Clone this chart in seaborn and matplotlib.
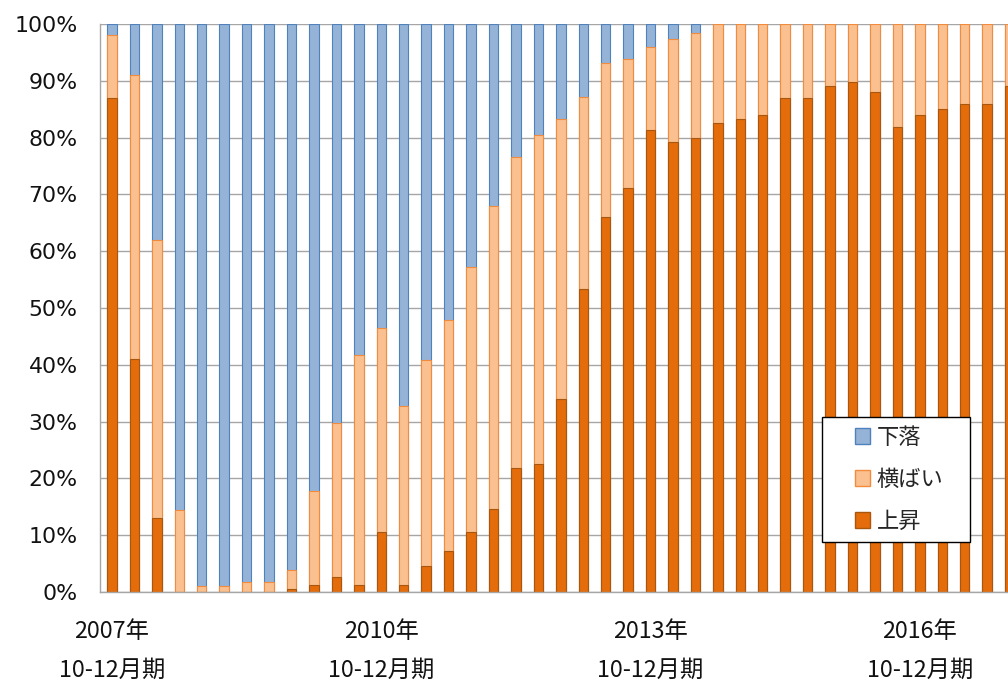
import numpy as np
import pandas as pd
import seaborn as sns
import matplotlib.pyplot as plt
from matplotlib.patches import Patch, Rectangle
from matplotlib.legend_handler import HandlerPatch
from matplotlib.ticker import PercentFormatter, FixedLocator

# quarterly periods, 2007Q4 onwards
periods = pd.period_range('2007Q4', periods=41, freq='Q').astype(str).tolist()

# shares in % (上昇 = rise, 横ばい = flat, 下落 = fall)
rise = [87.0, 41.0, 13.0, 0.0, 0.0, 0.0, 0.0, 0.0, 0.5, 1.2,
        2.6, 1.2, 10.5, 1.2, 4.6, 7.2, 10.5, 14.6, 21.9, 22.6,
        33.9, 53.3, 66.0, 71.2, 81.3, 79.3, 79.9, 82.6, 83.3, 84.0,
        87.0, 87.0, 89.0, 89.8, 88.0, 81.9, 83.9, 85.0, 86.0, 86.0,
        89.0]
flat = [11.0, 50.0, 49.0, 14.5, 1.1, 1.1, 1.8, 1.8, 3.3, 16.6,
        27.2, 40.6, 36.0, 31.5, 36.3, 40.6, 46.7, 53.3, 54.7, 57.9,
        49.4, 33.9, 27.2, 22.7, 14.6, 18.0, 18.6, 17.4, 16.7, 16.0,
        13.0, 13.0, 11.0, 10.2, 12.0, 18.1, 16.1, 15.0, 14.0, 14.0,
        11.0]
fall = [2.0, 9.0, 38.0, 85.5, 98.9, 98.9, 98.2, 98.2, 96.2, 82.2,
        70.2, 58.2, 53.5, 67.3, 59.1, 52.2, 42.8, 32.1, 23.4, 19.5,
        16.7, 12.8, 6.8, 6.1, 4.1, 2.7, 1.5, 0.0, 0.0, 0.0,
        0.0, 0.0, 0.0, 0.0, 0.0, 0.0, 0.0, 0.0, 0.0, 0.0,
        0.0]

tick_periods = ['2007Q4', '2010Q4', '2013Q4', '2016Q4']
tick_labels = ['2007年\n10-12月期', '2010年\n10-12月期',
               '2013年\n10-12月期', '2016年\n10-12月期']

df = pd.DataFrame({'period': periods, '上昇': rise, '横ばい': flat, '下落': fall})
df['top_rise'] = df['上昇']
df['top_flat'] = df['上昇'] + df['横ばい']
df['top_fall'] = df['top_flat'] + df['下落']

sns.set_style('white')
plt.rcParams['font.family'] = ['Noto Sans CJK JP', 'DejaVu Sans']

fig = plt.figure(figsize=(10.08, 6.8), dpi=100)
ax = fig.add_axes([100 / 1008, 1 - 592 / 680, 1 - 100 / 1008, 568 / 680])

layers = [('下落', 'top_fall', '#95B3D7', '#4F81BD'),
          ('横ばい', 'top_flat', '#FAC090', '#F28C3C'),
          ('上昇', 'top_rise', '#E46C0A', '#A9560E')]
for name, col, fc, ec in layers:
    sns.barplot(data=df, x='period', y=col, order=periods, color=fc, saturation=1,
                width=0.42, edgecolor=ec, linewidth=0.8, errorbar=None, ax=ax)

ax.set_xlim(-0.535, -0.535 + 908 / 22.44)
ax.set_ylim(0, 100)
ax.set_yticks(range(0, 101, 10))
ax.yaxis.set_major_formatter(PercentFormatter(100, decimals=0))
ax.yaxis.grid(True, color='#A6A6A6', linewidth=1)
ax.set_axisbelow(True)
ax.set_xlabel('')
ax.set_ylabel('')

ax.set_xticks([periods.index(p) for p in tick_periods])
ax.set_xticklabels(tick_labels, fontsize=16.8, linespacing=1.9, color='#111111')
ax.xaxis.set_minor_locator(FixedLocator(np.arange(-0.5, len(periods) + 1, 1)))
ax.tick_params(axis='x', which='major', length=0, pad=20)
ax.tick_params(axis='x', which='minor', direction='in', length=6, width=1, color='#A6A6A6')
ax.tick_params(axis='y', length=0, pad=16, labelsize=15.8, labelcolor='#111111')
for lab in ax.get_yticklabels():
    lab.set_fontfamily('DejaVu Sans')

for s in ['top', 'right']:
    ax.spines[s].set_visible(False)
for s in ['left', 'bottom']:
    ax.spines[s].set_color('#A6A6A6')
    ax.spines[s].set_linewidth(1)


def square_right(legend, orig_handle, xdescent, ydescent, width, height, fontsize):
    return Rectangle((width - height - xdescent, -ydescent), height, height)


handles = [Patch(facecolor=fc, edgecolor=ec, linewidth=1, label=name)
           for name, col, fc, ec in layers]
leg = ax.legend(handles=handles, loc='upper left',
                bbox_to_anchor=(822 / 1008, 1 - 542 / 680, 148 / 1008, 125 / 680),
                bbox_transform=fig.transFigure, mode='expand', borderaxespad=0,
                fontsize=16, handlelength=1.75, handleheight=0.68, labelspacing=0.85,
                handletextpad=0.3, borderpad=0.4, frameon=True, fancybox=False,
                edgecolor='black', framealpha=1,
                handler_map={Patch: HandlerPatch(patch_func=square_right)})
leg.get_frame().set_linewidth(1)

plt.savefig('out.png', dpi=100)
plt.close()
